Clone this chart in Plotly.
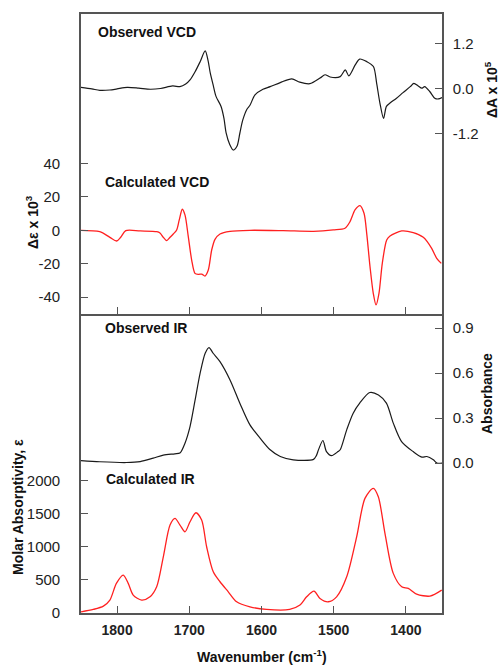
import plotly.graph_objects as go

# ---------------- data ----------------
obs_vcd_wn = [1850, 1835, 1824, 1810, 1800, 1786, 1770, 1754, 1740, 1723, 1713, 1705, 1699, 1692,
              1685, 1678, 1674, 1671, 1667, 1663, 1656, 1652, 1649, 1644, 1639, 1634, 1630, 1626,
              1620, 1616, 1609, 1598, 1588, 1574, 1558, 1547, 1533, 1519, 1512, 1505, 1491, 1484,
              1479, 1470, 1464, 1454, 1445, 1440.5, 1436, 1431, 1427, 1422, 1413, 1404, 1394,
              1389, 1383, 1378, 1374, 1367, 1360, 1355, 1350]
obs_vcd_val = [0.03, -0.01, -0.05, -0.04, -0.01, 0.03, 0.01, -0.02, 0.00, 0.07, 0.05, 0.12, 0.23, 0.45,
               0.72, 1.01, 0.75, 0.42, 0.10, -0.21, -0.48, -0.80, -1.19, -1.50, -1.65, -1.55, -1.20, -0.85,
               -0.55, -0.45, -0.17, -0.02, 0.05, 0.16, 0.26, 0.17, 0.13, 0.28, 0.37, 0.31, 0.32, 0.50,
               0.34, 0.64, 0.79, 0.72, 0.59, 0.14, -0.39, -0.80, -0.48, -0.39, -0.26, -0.11, 0.05,
               0.14, 0.07, 0.01, 0.05, -0.08, -0.26, -0.28, -0.24]

calc_vcd_wn = [1850, 1824, 1810, 1800.6, 1795, 1788, 1768, 1745, 1740.6, 1736, 1731.3, 1726.7, 1722.2,
               1717.5, 1713.9, 1709.7, 1706, 1701.4, 1696.7, 1692.1, 1687.5, 1682.8, 1678.3, 1673.7,
               1669, 1664.4, 1657.5, 1643.6, 1616, 1570, 1528, 1500.6, 1484.4, 1477.4, 1470.5, 1463.6,
               1458, 1454.3, 1449.7, 1445.2, 1441.4, 1437.3, 1432.7, 1426.6, 1422, 1405.8, 1389.8,
               1375.9, 1364.3, 1357.3, 1351]
calc_vcd_val = [0, -0.8, -4.2, -6.4, -4.2, -0.2, -0.4, -0.8, -1.6, -4.2, -6.2, -4.2, -2.2,
                0.2, 6.2, 12.6, 9.2, -3.8, -17.8, -25.8, -26.4, -26.2, -27.4, -23.8,
                -11.8, -5.4, -2.2, -0.6, 0, -0.2, -0.6, 0.2, 1.2, 5.2, 12.2, 14.8,
                10.2, -1.8, -21.8, -37.7, -44.7, -37.7, -19.8, -5.8, -3.4, -0.4, -1.4,
                -4.2, -10.8, -16.8, -19.8]

obs_ir_wn = [1850, 1824, 1787, 1768, 1750, 1736, 1720, 1713, 1706, 1699, 1692, 1685, 1678, 1672.7,
             1667, 1657.5, 1643.6, 1630, 1616, 1602, 1588, 1574, 1556, 1528, 1524, 1521, 1515,
             1510, 1503, 1494, 1491, 1482, 1473, 1464, 1450, 1438, 1427, 1417.5, 1406, 1390,
             1378, 1371, 1362, 1357, 1350]
obs_ir_val = [0.017, 0.009, 0.004, 0.010, 0.033, 0.053, 0.062, 0.067, 0.133, 0.244, 0.42, 0.60, 0.733, 0.771,
              0.733, 0.677, 0.555, 0.40, 0.255, 0.167, 0.089, 0.044, 0.022, 0.025, 0.05, 0.09, 0.151,
              0.077, 0.05, 0.077, 0.089, 0.222, 0.333, 0.40, 0.471, 0.455, 0.40, 0.267, 0.144, 0.077,
              0.04, 0.044, 0.022, 0.0, 0.0]

calc_ir_wn = [1850, 1833, 1819, 1810, 1801, 1791.5, 1784.6, 1777.7, 1766, 1754.4, 1745.2, 1736,
              1726.7, 1719.8, 1712.9, 1706, 1699, 1690.8, 1682.9, 1676, 1666.8, 1657.5, 1646,
              1634.4, 1616, 1593, 1561, 1546.7, 1537.5, 1527.3, 1519, 1507.5, 1496, 1482,
              1468.2, 1456.7, 1445.2, 1438.2, 1429, 1417.5, 1405.8, 1396.7, 1385.1, 1366.7, 1350.4]
calc_ir_val = [15, 51, 101, 192, 445, 571, 445, 268, 192, 242, 394, 848,
               1329, 1430, 1329, 1227, 1379, 1515, 1404, 1000, 621, 470, 318,
               167, 91, 51, 51, 117, 242, 329, 218, 167, 242, 545,
               1151, 1733, 1885, 1757, 1203, 597, 394, 370, 283, 253, 344]

x_ticks = [1800, 1700, 1600, 1500, 1400]
vcd_calc_ticks = [-40, -20, 0, 20, 40]
vcd_obs_ticks = [-1.2, 0.0, 1.2]
ir_calc_ticks = [0, 500, 1000, 1500, 2000]
ir_obs_ticks = [0.0, 0.3, 0.6, 0.9]

# ---------------- figure ----------------
BLACK = "#1a1a1a"
RED = "#ff2020"
AX = "#555555"
FONT = "Liberation Sans, Arial, sans-serif"

fig = go.Figure()
fig.add_trace(go.Scatter(x=calc_vcd_wn, y=calc_vcd_val, xaxis="x2", yaxis="y",
                         mode="lines", line=dict(color=RED, width=1.3, shape="spline", smoothing=0.8)))
fig.add_trace(go.Scatter(x=obs_vcd_wn, y=obs_vcd_val, xaxis="x2", yaxis="y2",
                         mode="lines", line=dict(color=BLACK, width=1.2, shape="spline", smoothing=0.8)))
fig.add_trace(go.Scatter(x=calc_ir_wn, y=calc_ir_val, xaxis="x", yaxis="y3",
                         mode="lines", line=dict(color=RED, width=1.3, shape="spline", smoothing=0.8)))
fig.add_trace(go.Scatter(x=obs_ir_wn, y=obs_ir_val, xaxis="x", yaxis="y4",
                         mode="lines", line=dict(color=BLACK, width=1.2, shape="spline", smoothing=0.8)))

SPLIT = 0.4992
common = dict(showgrid=False, zeroline=False, showline=True, linecolor=AX, linewidth=1.6,
              ticks="inside", ticklen=7, tickcolor=AX, tickwidth=1.3)
yfont = dict(family=FONT, size=15, color="#222")

def fmt(v, d):
    return (f"{v:.{d}f}").replace("\u2212", "-")

fig.update_layout(
    width=500, height=666,
    margin=dict(l=81, r=58, t=14, b=53),
    paper_bgcolor="white", plot_bgcolor="white",
    showlegend=False,
    xaxis=dict(domain=[0, 1], range=[1850, 1350], anchor="y3", tickvals=x_ticks,
               ticklabelstandoff=3,
               tickfont=dict(family=FONT, size=14, color="#222", weight="bold"), **common),
    xaxis2=dict(domain=[0, 1], range=[1850, 1350], anchor="y", tickvals=x_ticks,
                showticklabels=False, mirror=True, **common),
    yaxis=dict(domain=[SPLIT, 1], range=[-50.1, 129.5], anchor="x2", side="left",
               tickvals=vcd_calc_ticks, ticktext=[str(v) for v in vcd_calc_ticks],
               ticklabelstandoff=16, tickfont=yfont, **common),
    yaxis2=dict(range=[-6.05, 2.0], overlaying="y", anchor="x2", side="right",
                tickvals=vcd_obs_ticks, ticktext=[fmt(v, 1) for v in vcd_obs_ticks],
                ticklabelstandoff=6, tickfont=yfont, **common),
    yaxis3=dict(domain=[0, SPLIT], range=[-3, 4525], anchor="x", side="left",
                tickvals=ir_calc_ticks, ticktext=[str(v) for v in ir_calc_ticks],
                ticklabelstandoff=16, tickfont=yfont, **common),
    yaxis4=dict(range=[-1.0, 0.995], overlaying="y3", anchor="x", side="right",
                tickvals=ir_obs_ticks, ticktext=[fmt(v, 1) for v in ir_obs_ticks],
                ticklabelstandoff=6, tickfont=yfont, **common),
)

lab = dict(family=FONT, size=14, color="#111", weight="bold")
def ann(text, x, y, xanchor="left", angle=0):
    fig.add_annotation(text=text, x=x, y=y, xref="paper", yref="paper", xanchor=xanchor,
                       yanchor="middle", showarrow=False, textangle=angle, font=lab)

# convert pixel positions to paper coordinates
def px(xp):
    return (xp - 81) / (442 - 81)
def py(yp):
    return (613 - yp) / (613 - 14)

ann("Observed VCD", px(96), py(32))
ann("Calculated VCD", px(103), py(182))
ann("Observed IR", px(103), py(328))
ann("Calculated IR", px(104), py(479))
ann("Wavenumber (cm<sup>-1</sup>)", 0.5, py(656), xanchor="center")
ann("\u0394\u03b5 x 10<sup>3</sup>", px(32), py(222), xanchor="center", angle=-90)
ann("Molar Absorptivity, \u03b5", px(18), py(507), xanchor="center", angle=-90)
ann("\u0394A x 10<sup>5</sup>", px(491), py(90), xanchor="center", angle=-90)
ann("Absorbance", px(487), py(393), xanchor="center", angle=-90)

fig.write_html("out.html", config={"displayModeBar": False},
               post_script="document.body.style.margin='0';document.body.style.overflow='hidden';")
